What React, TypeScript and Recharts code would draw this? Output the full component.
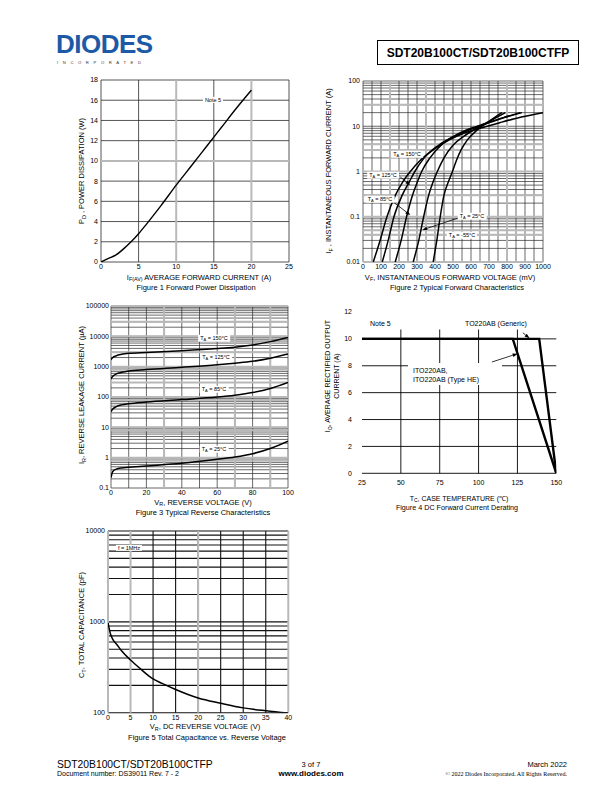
import React from 'react';
import { LineChart, Line, XAxis, YAxis, CartesianGrid, ReferenceLine } from 'recharts';

const FONT = '"Liberation Sans", Arial, Helvetica, sans-serif';
const DARK = '#2a2a2a';
const GREY = '#b9b9b9';
const TICK = { fontSize: 7, fill: '#000', fontFamily: FONT };
const M = { top: 8, right: 12, left: 0, bottom: 0 };

// Figure 1 - forward power dissipation
const fig1Current = [0, 1, 2, 3, 4, 5, 6, 8, 10, 12, 14, 16, 18, 20];
const fig1Power = [0, 0.35, 0.7, 1.3, 2.0, 2.8, 3.7, 5.6, 7.6, 9.5, 11.4, 13.3, 15.2, 17.0];
const fig1XTicks = [0, 5, 10, 15, 20, 25];
const fig1YTicks = [0, 2, 4, 6, 8, 10, 12, 14, 16, 18];

// Figure 2 - typical forward characteristics (mV, A)
const fig2Vf150 = [57, 95, 133, 180, 222, 263, 320, 400, 480, 560, 650, 760, 880, 1000];
const fig2If150 = [0.01, 0.03, 0.1, 0.3, 0.6, 1, 1.8, 3.2, 5, 7, 9, 12, 16, 20];
const fig2Vf125 = [107, 140, 172, 218, 258, 288, 340, 420, 500, 580, 660, 760, 883];
const fig2If125 = [0.01, 0.03, 0.1, 0.3, 0.6, 1, 2, 3.8, 5.8, 8, 10.5, 14.5, 20];
const fig2Vf85 = [179, 212, 242, 275, 303, 326, 372, 440, 520, 600, 680, 780, 874];
const fig2If85 = [0.01, 0.03, 0.1, 0.3, 0.6, 1, 2, 4, 6.5, 9, 11.5, 15.5, 20];
const fig2Vf25 = [279, 310, 337, 365, 390, 413, 450, 500, 560, 620, 680, 740, 791];
const fig2If25 = [0.01, 0.03, 0.1, 0.3, 0.6, 1, 2, 3.8, 6, 8.5, 11.5, 15.5, 20];
const fig2VfM55 = [390, 410, 429, 450, 475, 497, 520, 545, 580, 630, 690, 740, 772];
const fig2IfM55 = [0.01, 0.03, 0.1, 0.3, 0.6, 1, 1.8, 3, 5, 8, 12, 16.5, 20];
const fig2XTicks = [0, 100, 200, 300, 400, 500, 600, 700, 800, 900, 1000];
const fig2YTicks = [0.01, 0.1, 1, 10, 100];

// Figure 3 - typical reverse characteristics (V, uA)
const fig3Voltage = [0, 1, 3, 6, 10, 20, 40, 60, 70, 80, 90, 100];
const fig3Ir150 = [1700, 2000, 2300, 2550, 2750, 2950, 3350, 3950, 4400, 5200, 6700, 9200];
const fig3Ir125 = [400, 480, 580, 650, 720, 800, 950, 1150, 1300, 1500, 1900, 2600];
const fig3Ir85 = [33, 40, 48, 55, 60, 68, 82, 100, 115, 140, 190, 300];
const fig3Ir25 = [0.22, 0.35, 0.42, 0.46, 0.48, 0.53, 0.65, 0.88, 1.05, 1.35, 2.0, 3.5];
const fig3XTicks = [0, 20, 40, 60, 80, 100];
const fig3YTicks = [0.1, 1, 10, 100, 1000, 10000, 100000];

// Figure 4 - DC forward current derating
const fig4GenericTemp = [25, 139, 150];
const fig4GenericCurrent = [10, 10, 0];
const fig4IsoTemp = [25, 122, 150];
const fig4IsoCurrent = [10, 10, 0];
const fig4XTicks = [25, 50, 75, 100, 125, 150];
const fig4YTicks = [0, 2, 4, 6, 8, 10, 12];

// Figure 5 - total capacitance vs reverse voltage (V, pF)
const fig5Voltage = [0, 0.5, 1, 2, 3, 5, 7, 10, 12, 15, 20, 25, 30, 35, 40];
const fig5Cap = [980, 750, 650, 560, 480, 380, 310, 235, 210, 180, 145, 127, 113, 105, 99];
const fig5XTicks = [0, 5, 10, 15, 20, 25, 30, 35, 40];
const fig5YTicks = [100, 1000, 10000];

const zip = (xs: number[], ys: number[], kx: string, ky: string) =>
  xs.map((x, i) => ({ [kx]: x, [ky]: ys[i] }));

// log grid positions 1..9 x 10^e
const logLines = (lo: number, hi: number) => {
  const out: number[] = [];
  for (let e = lo; e < hi; e++) {
    for (let k = 1; k < 10; k++) out.push(Number((k * Math.pow(10, e)).toPrecision(2)));
  }
  out.push(Math.pow(10, hi));
  return out;
};
const steps = (a: number, b: number, s: number) => {
  const out: number[] = [];
  for (let v = a; v <= b + 1e-9; v += s) out.push(v);
  return out;
};

const Sub = ({ children }: { children: React.ReactNode }) => (
  <span style={{ fontSize: '0.72em', position: 'relative', top: '0.35em' }}>{children}</span>
);

type TProps = {
  x: number;
  y: number;
  size?: number;
  align?: 'left' | 'center' | 'right';
  rotate?: boolean;
  bold?: boolean;
  box?: boolean;
  serif?: boolean;
  color?: string;
  spacing?: number;
  lh?: number;
  children: React.ReactNode;
};
const T = ({ x, y, size = 7.5, align = 'center', rotate, bold, box, serif, color = '#000', spacing, lh = 1.15, children }: TProps) => {
  const tx = align === 'left' ? '0' : align === 'right' ? '-100%' : '-50%';
  return (
    <div
      style={{
        position: 'absolute',
        left: x,
        top: y,
        transform: `translate(${tx},-50%)${rotate ? ' rotate(-90deg)' : ''}`,
        fontSize: size,
        fontFamily: serif ? '"Liberation Serif", "DejaVu Serif", serif' : FONT,
        fontWeight: bold ? 700 : 400,
        whiteSpace: 'nowrap',
        lineHeight: lh,
        letterSpacing: spacing,
        background: box ? '#fff' : 'transparent',
        padding: box ? '0 2px' : 0,
        color,
      }}
    >
      {children}
    </div>
  );
};

const arrowShape = (p: any) => {
  const { x1, y1, x2, y2 } = p;
  const a = Math.atan2(y2 - y1, x2 - x1);
  const len = 5;
  const w = 1.8;
  const bx = x2 - len * Math.cos(a);
  const by = y2 - len * Math.sin(a);
  const pts = `${x2},${y2} ${bx + w * Math.sin(a)},${by - w * Math.cos(a)} ${bx - w * Math.sin(a)},${by + w * Math.cos(a)}`;
  return (
    <g>
      <line x1={x1} y1={y1} x2={bx} y2={by} stroke="#000" strokeWidth={0.8} />
      <polygon points={pts} fill="#000" />
    </g>
  );
};

const Box = ({ left, top, children }: { left: number; top: number; children: React.ReactNode }) => (
  <div style={{ position: 'absolute', left, top }}>{children}</div>
);

function Figure1() {
  const data = zip(fig1Current, fig1Power, 'x', 'y');
  return (
    <Box left={75.7} top={72}>
      <LineChart width={225} height={206} margin={M} data={data}>
        <CartesianGrid stroke={DARK} strokeWidth={0.8} horizontalValues={[0, 2, 4, 6, 8, 12, 14, 16, 18]} verticalValues={[0, 5, 15, 25]} />
        <CartesianGrid stroke={GREY} strokeWidth={2} horizontalValues={[10]} verticalValues={[10, 20]} />
        <XAxis type="number" dataKey="x" domain={[0, 25]} ticks={fig1XTicks} interval={0} height={16} axisLine={false} tickLine={false} tickSize={0} tickMargin={2} tick={TICK} allowDataOverflow />
        <YAxis type="number" domain={[0, 18]} ticks={fig1YTicks} interval={0} width={25} axisLine={false} tickLine={false} tickSize={0} tickMargin={3} tick={TICK} allowDataOverflow />
        <Line dataKey="y" type="monotone" stroke="#000" strokeWidth={1.4} dot={false} isAnimationActive={false} />
      </LineChart>
    </Box>
  );
}

function Figure2() {
  const curves = [
    zip(fig2Vf150, fig2If150, 'v', 'i'),
    zip(fig2Vf125, fig2If125, 'v', 'i'),
    zip(fig2Vf85, fig2If85, 'v', 'i'),
    zip(fig2Vf25, fig2If25, 'v', 'i'),
    zip(fig2VfM55, fig2IfM55, 'v', 'i'),
  ];
  return (
    <Box left={337.7} top={73}>
      <LineChart width={217} height={205} margin={M}>
        <CartesianGrid stroke={DARK} strokeWidth={0.7} horizontalValues={logLines(-2, 2)} verticalValues={steps(0, 1000, 50)} />
        <CartesianGrid stroke={GREY} strokeWidth={2} horizontalValues={[30, 4, 3, 1, 0.3, 0.1, 0.05, 0.04, 0.01]} verticalValues={[150, 350, 800]} />
        <XAxis type="number" dataKey="v" domain={[0, 1000]} ticks={fig2XTicks} interval={0} height={16} axisLine={false} tickLine={false} tickSize={0} tickMargin={2} tick={TICK} allowDataOverflow />
        <YAxis type="number" scale="log" domain={[0.01, 100]} ticks={fig2YTicks} interval={0} width={25} axisLine={false} tickLine={false} tickSize={0} tickMargin={3} tick={TICK} tickFormatter={(v: number) => String(v)} allowDataOverflow />
        {curves.map((c, k) => (
          <Line key={k} data={c} dataKey="i" type="monotone" stroke="#000" strokeWidth={1.5} dot={false} isAnimationActive={false} />
        ))}
        <ReferenceLine segment={[{ x: 207, y: 0.756 }, { x: 263, y: 0.504 }]} shape={arrowShape} ifOverflow="visible" />
        <ReferenceLine segment={[{ x: 168, y: 0.212 }, { x: 263, y: 0.109 }]} shape={arrowShape} ifOverflow="visible" />
        <ReferenceLine segment={[{ x: 529, y: 0.0938 }, { x: 329, y: 0.051 }]} shape={arrowShape} ifOverflow="visible" />
      </LineChart>
    </Box>
  );
}

function Figure3() {
  const data = fig3Voltage.map((v, i) => ({ v, a: fig3Ir150[i], b: fig3Ir125[i], c: fig3Ir85[i], d: fig3Ir25[i] }));
  return (
    <Box left={80.7} top={298}>
      <LineChart width={219} height={206} margin={M} data={data}>
        <CartesianGrid stroke={DARK} strokeWidth={0.7} horizontalValues={logLines(-1, 5)} verticalValues={steps(0, 100, 10)} />
        <CartesianGrid stroke={GREY} strokeWidth={2} horizontalValues={[100000, 30000, 10000, 3000, 1000, 800, 300, 100, 80, 10, 8, 1, 0.8]} verticalValues={[30, 70, 90]} />
        <XAxis type="number" dataKey="v" domain={[0, 100]} ticks={fig3XTicks} interval={0} height={16} axisLine={false} tickLine={false} tickSize={0} tickMargin={2} tick={TICK} allowDataOverflow />
        <YAxis type="number" scale="log" domain={[0.1, 100000]} ticks={fig3YTicks} interval={0} width={30} axisLine={false} tickLine={false} tickSize={0} tickMargin={2} tick={TICK} tickFormatter={(v: number) => String(v)} allowDataOverflow />
        {['a', 'b', 'c', 'd'].map((k) => (
          <Line key={k} dataKey={k} type="monotone" stroke="#000" strokeWidth={1.5} dot={false} isAnimationActive={false} />
        ))}
      </LineChart>
    </Box>
  );
}

function Figure4() {
  const generic = zip(fig4GenericTemp, fig4GenericCurrent, 't', 'i');
  const iso = zip(fig4IsoTemp, fig4IsoCurrent, 't', 'i');
  return (
    <Box left={341.7} top={303.7}>
      <LineChart width={226.3} height={185.3} margin={M}>
        <CartesianGrid stroke="#000" strokeWidth={0.9} vertical={false} horizontalValues={[0, 2, 4, 6, 8, 10]} />
        {[50, 75, 100, 125].map((x) => (
          <ReferenceLine key={x} segment={[{ x, y: 0 }, { x, y: 10.7 }]} stroke="#000" strokeWidth={0.9} />
        ))}
        <XAxis type="number" dataKey="t" domain={[25, 150]} ticks={fig4XTicks} interval={0} height={16} axisLine={false} tickLine={false} tickSize={0} tickMargin={7} tick={TICK} allowDataOverflow />
        <YAxis type="number" domain={[0, 12]} ticks={fig4YTicks} interval={0} width={20} axisLine={false} tickLine={false} tickSize={0} tickMargin={10} tick={TICK} allowDataOverflow />
        <Line data={generic} dataKey="i" type="linear" stroke="#000" strokeWidth={2.4} dot={false} isAnimationActive={false} />
        <Line data={iso} dataKey="i" type="linear" stroke="#000" strokeWidth={2.4} dot={false} isAnimationActive={false} />
        <ReferenceLine segment={[{ x: 128.5, y: 10.45 }, { x: 132.8, y: 10.05 }]} shape={arrowShape} ifOverflow="visible" />
        <ReferenceLine segment={[{ x: 108.6, y: 8.28 }, { x: 125.1, y: 8.9 }]} shape={arrowShape} ifOverflow="visible" />
      </LineChart>
    </Box>
  );
}

function Figure5() {
  const data = zip(fig5Voltage, fig5Cap, 'v', 'c');
  return (
    <Box left={77.7} top={523}>
      <LineChart width={222.3} height={205.7} margin={M} data={data}>
        <CartesianGrid stroke="#111" strokeWidth={1.1} horizontalValues={logLines(2, 4)} verticalValues={steps(10, 35, 5)} />
        <CartesianGrid stroke={GREY} strokeWidth={2} horizontal={false} verticalValues={[0, 5, 20, 40]} />
        <XAxis type="number" dataKey="v" domain={[0, 40]} ticks={fig5XTicks} interval={0} height={16} axisLine={false} tickLine={false} tickSize={0} tickMargin={2} tick={TICK} allowDataOverflow />
        <YAxis type="number" scale="log" domain={[100, 10000]} ticks={fig5YTicks} interval={0} width={30} axisLine={false} tickLine={false} tickSize={0} tickMargin={3} tick={TICK} tickFormatter={(v: number) => String(v)} allowDataOverflow />
        <Line dataKey="c" type="monotone" stroke="#000" strokeWidth={1.5} dot={false} isAnimationActive={false} />
      </LineChart>
    </Box>
  );
}

const TA = ({ t }: { t: string }) => (
  <>
    T<Sub>A</Sub> = {t}
  </>
);

export default function App() {
  return (
    <div style={{ position: 'absolute', left: 0, top: 0, width: 612, height: 792, background: '#fff', overflow: 'hidden', fontFamily: FONT }}>
      {/* header */}
      <T x={56} y={44.5} size={26} bold align="left" color="#1d5aa6" spacing={-0.5} lh={0.75}>DIODES</T>
      <T x={57} y={62.5} size={4.2} align="left" color="#333" spacing={4.6} lh={1}>INCORPORATED</T>
      <div style={{ position: 'absolute', left: 377, top: 40, width: 200, height: 23, border: '1px solid #000', display: 'flex', alignItems: 'center', justifyContent: 'center', fontFamily: FONT, fontWeight: 700, fontSize: 12 }}>
        SDT20B100CT/SDT20B100CTFP
      </div>

      <Figure1 />
      <Figure2 />
      <Figure3 />
      <Figure4 />
      <Figure5 />

      {/* figure 1 text */}
      <T x={213} y={100} size={5.5} box>Note 5</T>
      <T x={81.7} y={171} rotate>P<Sub>D</Sub> , POWER DISSIPATION (W)</T>
      <T x={199} y={277.5}>I<Sub>F(AV)</Sub> AVERAGE FORWARD CURRENT (A)</T>
      <T x={196} y={287.5}>Figure 1 Forward Power Dissipation</T>

      {/* figure 2 text */}
      <T x={407} y={154} size={5.5} box><TA t="150°C" /></T>
      <T x={383} y={175} size={5.5} box><TA t="125°C" /></T>
      <T x={380} y={199} size={5.5} box><TA t="85°C" /></T>
      <T x={472} y={216} size={5.5} box><TA t="25°C" /></T>
      <T x={462} y={235} size={5.5} box><TA t="-55°C" /></T>
      <T x={329} y={171} rotate>I<Sub>F</Sub> , INSTANTANEOUS FORWARD CURRENT (A)</T>
      <T x={450} y={277.5}>V<Sub>F</Sub>, INSTANTANEOUS FORWARD VOLTAGE (mV)</T>
      <T x={457} y={287.5}>Figure 2 Typical Forward Characteristics</T>

      {/* figure 3 text */}
      <T x={214} y={338} size={5.5} box><TA t="150°C" /></T>
      <T x={216} y={357} size={5.5} box><TA t="125°C" /></T>
      <T x={214} y={389} size={5.5} box><TA t="85°C" /></T>
      <T x={214} y={449} size={5.5} box><TA t="25°C" /></T>
      <T x={81.7} y={395} rotate>I<Sub>R</Sub>, REVERSE LEAKAGE CURRENT (µA)</T>
      <T x={203} y={502.5}>V<Sub>R</Sub>, REVERSE VOLTAGE (V)</T>
      <T x={203} y={512.5}>Figure 3 Typical Reverse Characteristics</T>

      {/* figure 4 text */}
      <T x={368} y={324} size={7} align="left" box>Note 5</T>
      <T x={463} y={324} size={7} align="left" box>TO220AB (Generic)</T>
      <div style={{ position: 'absolute', left: 408, top: 363, width: 94, height: 22, background: '#fff' }} />
      <T x={413} y={370.5} size={7} align="left">ITO220AB,</T>
      <T x={413} y={380} size={7} align="left">ITO220AB (Type HE)</T>
      <T x={328} y={376} size={7} rotate>I<Sub>O</Sub>, AVERAGE RECTIFIED OUTPUT</T>
      <T x={337} y={376} size={7} rotate>CURRENT (A)</T>
      <T x={459} y={498.5} size={7} lh={1}>T<Sub>C</Sub>, CASE TEMPERATURE (℃)</T>
      <T x={457} y={507.5} size={7.2} lh={1}>Figure 4 DC Forward Current Derating</T>

      {/* figure 5 text */}
      <T x={129} y={548} size={5.5} box>f = 1MHz</T>
      <T x={81.7} y={625} rotate>C<Sub>T</Sub>, TOTAL CAPACITANCE (pF)</T>
      <T x={205} y={727}>V<Sub>R</Sub>, DC REVERSE VOLTAGE (V)</T>
      <T x={207} y={738}>Figure 5 Total Capacitance vs. Reverse Voltage</T>

      {/* footer */}
      <T x={57} y={765} size={10.3} align="left">SDT20B100CT/SDT20B100CTFP</T>
      <T x={57} y={773.5} size={7} align="left">Document number: DS39011 Rev. 7 - 2</T>
      <T x={311} y={765} size={7.5}>3 of 7</T>
      <T x={311} y={773.5} size={8} bold>www.diodes.com</T>
      <T x={567} y={765} size={7.5} align="right">March 2022</T>
      <T x={567} y={773.5} size={6} align="right" serif>© 2022 Diodes Incorporated. All Rights Reserved.</T>
    </div>
  );
}
